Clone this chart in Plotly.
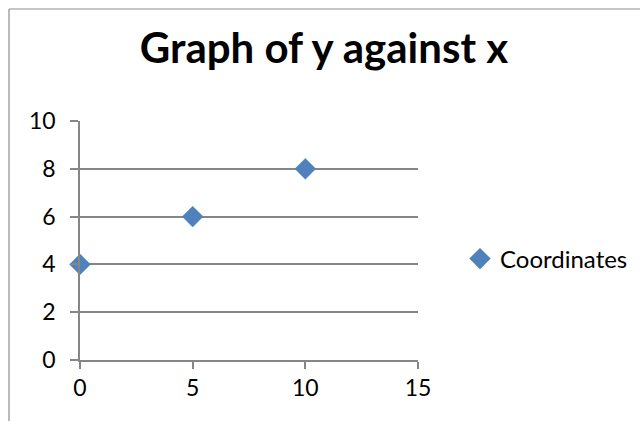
import plotly.graph_objects as go

x_vals = [0, 5, 10]
y_vals = [4, 6, 8]
series_name = "Coordinates"
title_text = "Graph of y against x"
x_ticks = [0, 5, 10, 15]
y_ticks = [0, 2, 4, 6, 8, 10]

FONT = "Lato, Carlito, Calibri, sans-serif"
AX = "#868686"

fig = go.Figure()
fig.add_trace(go.Scatter(
    x=x_vals, y=y_vals, mode="markers", name=series_name, cliponaxis=False,
    marker=dict(symbol="diamond", size=16, color="#4F81BD",
                line=dict(width=0.5, color="#4A7EBB")),
))

L, R, T, B = 80, 222, 121, 61
pw, ph = 640 - L - R, 421 - T - B

fig.update_layout(
    width=640, height=421,
    margin=dict(l=L, r=R, t=T, b=B, pad=0, autoexpand=False),
    paper_bgcolor="white", plot_bgcolor="white",
    font=dict(family=FONT, size=23, color="black"),
    title=dict(text="<b>" + title_text + "</b>", x=324 / 640, xanchor="center",
               y=1 - 48 / 421, yanchor="middle",
               font=dict(family=FONT, size=42, color="black")),
    showlegend=True,
    legend=dict(x=(460 - L) / pw, y=(360 - 259) / ph, xanchor="left", yanchor="middle",
                font=dict(family=FONT, size=24), bgcolor="rgba(0,0,0,0)",
                itemwidth=30),
    xaxis=dict(range=[0, 15], tickvals=x_ticks, showgrid=False, zeroline=False,
               showline=True, linecolor=AX, linewidth=1.5,
               ticks="outside", ticklen=7, tickcolor=AX, tickwidth=1.5,
               tickfont=dict(family=FONT, size=23), fixedrange=True),
    yaxis=dict(range=[0, 10], tickvals=y_ticks, showgrid=True, gridcolor=AX, gridwidth=1.5,
               zeroline=False, showline=True, linecolor=AX, linewidth=1.5,
               ticks="outside", ticklen=8, tickcolor=AX, tickwidth=1.5,
               tickfont=dict(family=FONT, size=23), ticklabelstandoff=10, fixedrange=True),
    shapes=[dict(type="line", xref="paper", yref="paper",
                 x0=(9 - L) / pw, x1=(9 - L) / pw, y0=(360 - 9) / ph, y1=(360 - 430) / ph,
                 line=dict(color="#8c8c8c", width=1.2)),
            dict(type="line", xref="paper", yref="paper",
                 x0=(9 - L) / pw, x1=(650 - L) / pw, y0=(360 - 9) / ph, y1=(360 - 9) / ph,
                 line=dict(color="#8c8c8c", width=1.2))],
)

fig.write_html("out.html", config={"displayModeBar": False})
with open("out.html", "r", encoding="utf-8") as f:
    html = f.read()
html = html.replace("<body>", '<body style="margin:0;padding:0;overflow:hidden">', 1)
with open("out.html", "w", encoding="utf-8") as f:
    f.write(html)
